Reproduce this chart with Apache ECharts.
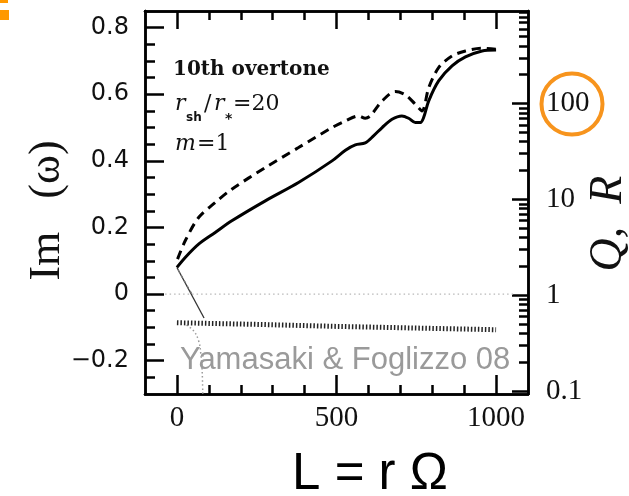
<!DOCTYPE html>
<html><head><meta charset="utf-8">
<script src="https://cdn.jsdelivr.net/npm/echarts@6/dist/echarts.min.js"></script>
<style>html,body{margin:0;padding:0;background:#fff}#c{width:629px;height:496px}</style>
</head><body><div id="c"></div>
<script>
// ---- data ----
const solidL  = [0, 26, 68, 120, 172, 277, 381, 486, 528, 559, 590, 616, 643, 674, 705, 726, 747, 763, 773, 789, 820, 862, 904, 956, 1000];
const solidIm = [0.08, 0.11, 0.15, 0.185, 0.22, 0.28, 0.335, 0.40, 0.432, 0.448, 0.454, 0.475, 0.50, 0.525, 0.535, 0.528, 0.515, 0.515, 0.53, 0.58, 0.64, 0.685, 0.712, 0.73, 0.733];
const dashL  = [2, 26, 68, 120, 172, 277, 381, 486, 528, 569, 590, 606, 643, 684, 716, 747, 768, 789, 820, 862, 904, 956, 1000];
const dashIm = [0.105, 0.16, 0.23, 0.275, 0.315, 0.38, 0.44, 0.50, 0.52, 0.535, 0.528, 0.535, 0.58, 0.608, 0.598, 0.57, 0.55, 0.62, 0.68, 0.715, 0.73, 0.738, 0.735];
const thinL  = [0, 85];
const thinIm = [0.08, -0.072];
const thinDashL  = [4, 50];
const thinDashIm = [0.072, -0.005];
const rowL  = [0, 250, 500, 750, 1000];
const rowIm = [-0.086, -0.091, -0.097, -0.102, -0.107];
const zeroL  = [-37, 1060];
const zeroIm = [0, 0];
const grayL  = [30, 52, 68, 75, 79, 81];
const grayIm = [-0.093, -0.11, -0.14, -0.18, -0.23, -0.30];

// ---- ticks / labels ----
const xMajorTicks = [0, 500, 1000];
const xMinorTicks = [100, 200, 300, 400, 600, 700, 800, 900];
const yMajorTicks = [-0.2, 0, 0.2, 0.4, 0.6, 0.8];
const yMinorTicks = [-0.25, -0.15, -0.1, -0.05, 0.05, 0.1, 0.15, 0.25, 0.3, 0.35, 0.45, 0.5, 0.55, 0.65, 0.7, 0.75];
const qrMajorTicks = [0.1, 1, 10, 100];
const qrMajorLabels = ['0.1', '1', '10', '100'];
const qrMinorTicks = [0.2,0.3,0.4,0.5,0.6,0.7,0.8,0.9, 2,3,4,5,6,7,8,9, 20,30,40,50,60,70,80,90, 200,300,400,500,600,700,800,900];
const qrMin = 0.0933, qrMax = 923;

const pairs = (a, b) => a.map((v, i) => [v, b[i]]);
const lg = v => Math.log10(v);

const line = {show: true, onZero: false, lineStyle: {color: '#000', width: 2.5}};
const tickStyle = {color: '#000', width: 2.5};
function xAx(pos, ticks, len, extra) {
  return Object.assign({
    type: 'value', position: pos, min: -100, max: 1100,
    axisLine: line, splitLine: {show: false}, nameMoveOverlap: false,
    axisTick: {show: true, inside: true, length: len, customValues: ticks, lineStyle: tickStyle},
    axisLabel: {show: false}
  }, extra || {});
}
function yAx(pos, min, max, ticks, len, extra) {
  return Object.assign({
    type: 'value', position: pos, min: min, max: max,
    axisLine: line, splitLine: {show: false}, nameMoveOverlap: false,
    axisTick: {show: true, inside: true, length: len, customValues: ticks, lineStyle: tickStyle},
    axisLabel: {show: false}
  }, extra || {});
}

const option = {
  animation: false,
  grid: {left: 145, top: 11, width: 383, height: 383, containLabel: false, outerBoundsMode: 'none'},
  xAxis: [
    xAx('bottom', xMajorTicks, 19, {
      axisLabel: {show: true, customValues: xMajorTicks, margin: 10,
        fontFamily: 'Liberation Serif', fontSize: 29, color: '#111', formatter: v => String(v)},
      name: 'L = r Ω', nameLocation: 'middle', nameGap: 55,
      nameTextStyle: {fontFamily: 'Liberation Sans', fontSize: 51, color: '#000', padding: [0, 0, 0, 67]}
    }),
    xAx('bottom', xMinorTicks, 9),
    xAx('top', xMajorTicks, 18),
    xAx('top', xMinorTicks, 9)
  ],
  yAxis: [
    yAx('left', -0.3, 0.85, yMajorTicks, 19, {
      axisLabel: {show: true, customValues: yMajorTicks, margin: 16,
        fontFamily: 'DejaVu Sans', fontSize: 24, color: '#111',
        formatter: v => Math.abs(v) < 1e-9 ? '0' : (v < 0 ? '\u2212' + (-v).toFixed(1) : v.toFixed(1))},
      name: 'Im   (ω)', nameLocation: 'middle', nameRotate: 90, nameGap: 76,
      nameTextStyle: {fontFamily: 'Liberation Serif', fontSize: 44, color: '#111', padding: [0, 16, 0, 0]}
    }),
    yAx('left', -0.3, 0.85, yMinorTicks, 10),
    yAx('right', lg(qrMin), lg(qrMax), qrMajorTicks.map(lg), 16, {
      axisLabel: {show: true, customValues: qrMajorTicks.map(lg), margin: 18,
        fontFamily: 'Liberation Serif', fontSize: 29, color: '#111',
        formatter: v => { const i = qrMajorTicks.findIndex(t => Math.abs(lg(t) - v) < 1e-6); return i >= 0 ? qrMajorLabels[i] : ''; }},
      name: 'Q,  R', nameLocation: 'middle', nameRotate: 90, nameGap: 58,
      nameTextStyle: {fontFamily: 'Liberation Serif', fontStyle: 'italic', fontSize: 46, color: '#111', padding: [0, 42, 0, 0]}
    }),
    yAx('right', lg(qrMin), lg(qrMax), qrMinorTicks.map(lg), 9)
  ],
  series: [
    {type: 'line', data: pairs(zeroL, zeroIm), symbol: 'none', lineStyle: {color: '#b8b8b8', width: 1.2, type: [1.5, 3]}},
    {type: 'line', data: pairs(grayL, grayIm), symbol: 'none', smooth: 0.4, lineStyle: {color: '#9a9a9a', width: 1.5, type: [1.5, 2.5]}},
    {type: 'line', data: pairs(rowL, rowIm), symbol: 'none', lineStyle: {color: '#222', width: 5, type: [1.5, 2]}},
    {type: 'line', data: pairs(thinL, thinIm), symbol: 'none', lineStyle: {color: '#333', width: 1.3}},
    {type: 'line', data: pairs(thinDashL, thinDashIm), symbol: 'none', lineStyle: {color: '#777', width: 1.3, type: [3, 3]}},
    {type: 'line', data: pairs(solidL, solidIm), symbol: 'none', smooth: 0.3, lineStyle: {color: '#000', width: 3}},
    {type: 'line', data: pairs(dashL, dashIm), symbol: 'none', smooth: 0.3, lineStyle: {color: '#000', width: 3, type: [9, 6]}}
  ],
  graphic: [
    {type: 'rect', shape: {x: 0, y: 0, width: 8, height: 3}, style: {fill: '#FF9900'}},
    {type: 'rect', shape: {x: 0, y: 10, width: 9, height: 10}, style: {fill: '#FF9900'}},
    {type: 'text', x: 173, y: 69.7, style: {text: '10th overtone', font: 'bold 20px "DejaVu Serif"', fill: '#111', verticalAlign: 'middle'}},
    {type: 'text', x: 175, y: 104, style: {text: 'r', font: 'italic 22px "DejaVu Serif"', fill: '#111', verticalAlign: 'middle'}},
    {type: 'text', x: 186, y: 117.5, style: {text: 'sh', font: 'bold 12px "DejaVu Sans"', fill: '#111', verticalAlign: 'middle'}},
    {type: 'text', x: 204, y: 104, style: {text: '/', font: '22px "DejaVu Serif"', fill: '#111', verticalAlign: 'middle'}},
    {type: 'text', x: 214, y: 104, style: {text: 'r', font: 'italic 22px "DejaVu Serif"', fill: '#111', verticalAlign: 'middle'}},
    {type: 'text', x: 225, y: 119, style: {text: '*', font: 'bold 14px "DejaVu Sans"', fill: '#111', verticalAlign: 'middle'}},
    {type: 'text', x: 233, y: 104, style: {text: '=20', font: '22px "DejaVu Serif"', fill: '#111', verticalAlign: 'middle'}},
    {type: 'text', x: 175, y: 144, style: {text: 'm', font: 'italic 22px "DejaVu Serif"', fill: '#111', verticalAlign: 'middle'}},
    {type: 'text', x: 197, y: 144, style: {text: '=1', font: '22px "DejaVu Serif"', fill: '#111', verticalAlign: 'middle'}},
    {type: 'text', x: 180, y: 360.8, style: {text: 'Yamasaki & Foglizzo 08', font: '31px "Liberation Sans"', fill: '#9a9a9a', verticalAlign: 'middle'}},
    {type: 'circle', shape: {cx: 572, cy: 104, r: 30.5}, style: {fill: 'none', stroke: '#F7941D', lineWidth: 4}, z: 100}
  ]
};
const chart = echarts.init(document.getElementById('c'), null, {renderer: 'canvas'});
chart.setOption(option);
</script>
</body></html>
